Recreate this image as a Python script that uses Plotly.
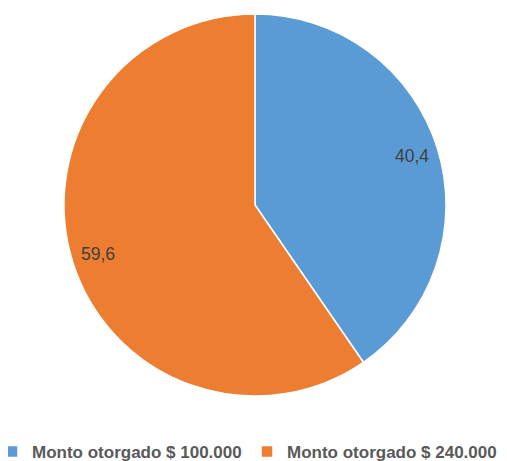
import math
import plotly.graph_objects as go

labels = ["Monto otorgado $ 100.000", "Monto otorgado $ 240.000"]
values = [40.4, 59.6]
colors = ["#5B9BD5", "#ED7D31"]

W, H = 507, 461
MB = 30                      # bottom margin holding the legend
PW, PH = W, H - MB           # plot area
cx, cy, R = 247, 197, 191    # pie centre/radius in figure pixels

fig = go.Figure(go.Pie(
    labels=labels, values=values, sort=False, direction="clockwise", rotation=0,
    marker=dict(colors=colors, line=dict(color="white", width=1.5)),
    textinfo="none", hoverinfo="label+value",
    domain=dict(x=[(cx - R) / PW, (cx + R) / PW], y=[1 - (cy + R) / PH, 1 - (cy - R) / PH]),
))

# value labels placed along each slice's mid-angle, near the rim
total = sum(values)
start = 0.0
annotations = []
for v in values:
    mid = (start + v / 2) / total * 2 * math.pi
    start += v
    px = cx + 0.86 * R * math.sin(mid)
    py = cy - 0.86 * R * math.cos(mid)
    annotations.append(dict(
        x=px / PW, y=1 - py / PH, xref="paper", yref="paper",
        xanchor="center", yanchor="middle",
        text=("%.1f" % v).replace(".", ","), showarrow=False,
        font=dict(family="Liberation Sans, Arial", size=17.5, color="#404040"),
    ))

fig.update_layout(
    width=W, height=H, margin=dict(l=0, r=0, t=0, b=MB, autoexpand=False),
    paper_bgcolor="white", plot_bgcolor="white",
    annotations=annotations,
    showlegend=True,
    legend=dict(orientation="h", x=-16 / PW, xanchor="left", y=-(444 - PH) / PH, yanchor="middle",
                bgcolor="rgba(0,0,0,0)",
                font=dict(family="Liberation Sans, Arial", size=17, color="#595959", weight="bold"),
                itemwidth=30, entrywidthmode="pixels", entrywidth=210),
)
fig.write_html("out.html")
